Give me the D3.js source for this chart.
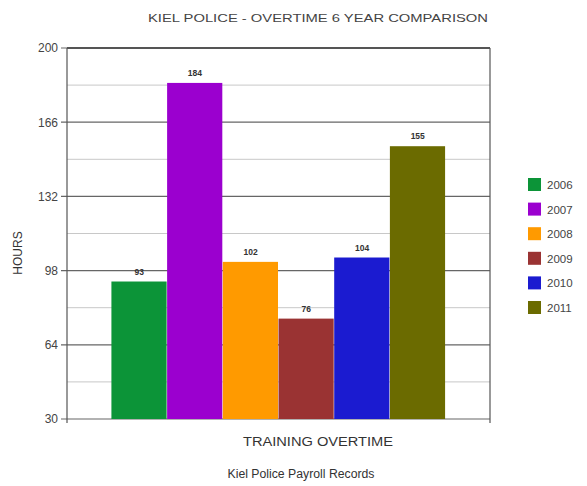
<!DOCTYPE html>
<html><head><meta charset="utf-8">
<script src="https://cdn.jsdelivr.net/npm/d3@7"></script>
<style>body{margin:0;background:#fff}svg{display:block}text{font-family:"Liberation Sans",Arial,sans-serif}</style>
</head><body><svg id="c" width="587" height="486"></svg>
<script>
const years = ["2006","2007","2008","2009","2010","2011"];
const values = [93,184,102,76,104,155];
const colors = ["#0c9438","#9b00cf","#ff9a00","#9a3333","#1b1bd0","#6b6b00"];
const yTicks = [30,64,98,132,166,200];
const minorTicks = [47,81,115,149,183];
const category = "TRAINING OVERTIME";

const svg = d3.select("#c");
const L=67,R=490,T=48,B=419;
const y = d3.scaleLinear().domain([30,200]).range([B,T]);
const x = d3.scaleBand().domain(years).range([L+(R-L)*0.105, R-(R-L)*0.105]).padding(0);

svg.append("text").attr("x",318).attr("y",22).attr("text-anchor","middle")
  .attr("font-size",11).attr("fill","#444").attr("textLength",340).attr("lengthAdjust","spacingAndGlyphs")
  .text("KIEL POLICE - OVERTIME 6 YEAR COMPARISON");

// grid
svg.append("g").selectAll("line").data(minorTicks).join("line")
  .attr("x1",L).attr("x2",R).attr("y1",d=>y(d)).attr("y2",d=>y(d))
  .attr("stroke","#c8c8c8").attr("stroke-width",1);
svg.append("g").selectAll("line").data(yTicks).join("line")
  .attr("x1",L-6).attr("x2",R).attr("y1",d=>y(d)).attr("y2",d=>y(d))
  .attr("stroke","#666").attr("stroke-width",1.2);
svg.append("line").attr("x1",L).attr("x2",L).attr("y1",T).attr("y2",B+4).attr("stroke","#555").attr("stroke-width",1.2);
svg.append("line").attr("x1",R).attr("x2",R).attr("y1",T).attr("y2",B+4).attr("stroke","#555").attr("stroke-width",1.2);
svg.append("line").attr("x1",L).attr("x2",R).attr("y1",T).attr("y2",T).attr("stroke","#555").attr("stroke-width",2);

const ax = d3.axisLeft(y).tickValues(yTicks).tickSize(0).tickPadding(9);
const g = svg.append("g").attr("transform",`translate(${L},0)`).call(ax);
g.select(".domain").remove();
g.selectAll("text").attr("font-size",12).attr("fill","#444").attr("font-family","Liberation Sans,Arial,sans-serif");

// bars
const data = years.map((d,i)=>({year:d,v:values[i],c:colors[i]}));
svg.append("g").selectAll("rect").data(data).join("rect")
  .attr("x",d=>x(d.year)).attr("width",x.bandwidth()-0.5)
  .attr("y",d=>y(d.v)).attr("height",d=>B-y(d.v)).attr("fill",d=>d.c);
svg.append("g").selectAll("text").data(data).join("text")
  .attr("x",d=>x(d.year)+x.bandwidth()/2).attr("y",d=>y(d.v)-7)
  .attr("text-anchor","middle").attr("font-size",8.5).attr("font-weight","bold").attr("fill","#333")
  .text(d=>d.v);

svg.append("text").attr("x",318).attr("y",446).attr("text-anchor","middle")
  .attr("font-size",12.5).attr("fill","#333").attr("textLength",150).attr("lengthAdjust","spacingAndGlyphs").text(category);
svg.append("text").attr("x",301).attr("y",478).attr("text-anchor","middle")
  .attr("font-size",12).attr("fill","#333").attr("textLength",147).attr("lengthAdjust","spacingAndGlyphs").text("Kiel Police Payroll Records");
svg.append("text").attr("transform","translate(22,253) rotate(-90)").attr("text-anchor","middle")
  .attr("font-size",12).attr("fill","#333").text("HOURS");

// legend
const lg = svg.append("g").selectAll("g").data(data).join("g")
  .attr("transform",(d,i)=>`translate(528,${178+i*24.6})`);
lg.append("rect").attr("width",13).attr("height",13).attr("fill",d=>d.c);
lg.append("text").attr("x",19).attr("y",11).attr("font-size",11.5).attr("fill","#444").text(d=>d.year);
</script></body></html>
